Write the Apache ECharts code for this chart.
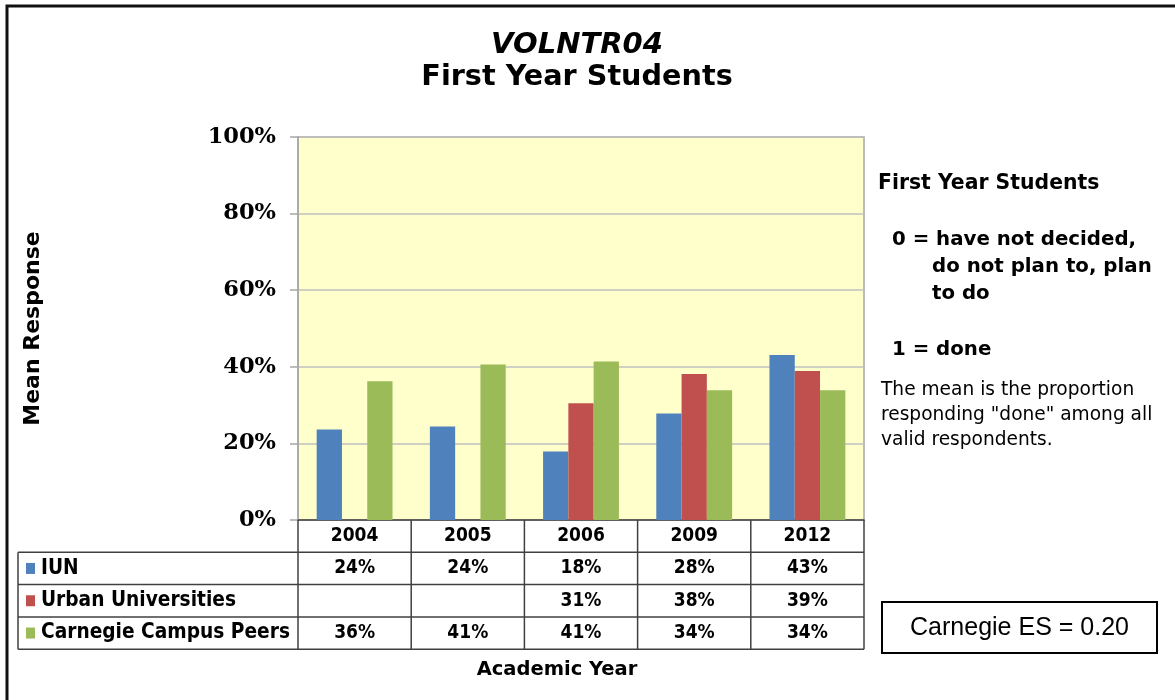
<!DOCTYPE html>
<html><head><meta charset="utf-8">
<script src="https://cdn.jsdelivr.net/npm/echarts@6/dist/echarts.min.js"></script>
<style>html,body{margin:0;padding:0;background:#fff}#c{width:1175px;height:700px}</style>
</head><body><div id="c"></div>
<script>
const years = ['2004', '2005', '2006', '2009', '2012'];
const seriesNames = ['IUN', 'Urban Universities', 'Carnegie Campus Peers'];
const iun = [23.6, 24.4, 17.9, 27.8, 43.1];
const urban = [null, null, 30.5, 38.1, 38.9];
const peers = [36.2, 40.6, 41.4, 33.9, 33.9];
const colors = ['#4F81BD', '#C0504D', '#9BBB59'];
const titleLines = ['VOLNTR04', 'First Year Students'];
const xTitle = 'Academic Year';
const yTitle = 'Mean Response';
const noteHead = 'First Year Students';
const noteZero = ['0 = have not decided,', 'do not plan to, plan', 'to do'];
const noteOne = '1 = done';
const noteBody = ['The mean is the proportion', 'responding "done" among all', 'valid respondents.'];
const esText = 'Carnegie ES = 0.20';

const allSeries = [iun, urban, peers];
const chart = echarts.init(document.getElementById('c'));
const SANS = '"DejaVu Sans"';
const COND = '"DejaVu Sans Condensed", "DejaVu Sans"';

const option = {
  animation: false,
  backgroundColor: '#fff',
  grid: { left: 298, top: 137, width: 566, height: 383, show: true, backgroundColor: '#FFFFCC', borderColor: '#A6A6A6', borderWidth: 1.5 },
  xAxis: {
    type: 'category', data: years,
    axisLabel: { show: false }, axisTick: { show: false },
    axisLine: { lineStyle: { color: '#404040', width: 1.5 } }
  },
  yAxis: {
    type: 'value', min: 0, max: 100, interval: 20,
    axisLabel: { formatter: '{value}%', margin: 22, fontFamily: '"DejaVu Serif"', fontWeight: 'bold', fontSize: 22.5, color: '#000' },
    axisLine: { show: true, lineStyle: { color: '#A6A6A6', width: 1.5 } },
    axisTick: { show: true, length: 8, lineStyle: { color: '#A6A6A6', width: 1.5 } },
    splitLine: { lineStyle: { color: '#BFBFBF', width: 1.5 } },
    name: yTitle, nameLocation: 'middle', nameGap: 254,
    nameTextStyle: { fontFamily: SANS, fontWeight: 'bold', fontSize: 22, color: '#000' }
  },
  series: allSeries.map((d, i) => ({
    type: 'bar', name: seriesNames[i], data: d,
    barGap: '0%', barCategoryGap: '33%',
    itemStyle: { color: colors[i] }
  }))
};
chart.setOption(option);

// Build table and annotations, positioned from the category axis scale
const g = [];
const c0 = chart.convertToPixel({ xAxisIndex: 0 }, 0);
const c1 = chart.convertToPixel({ xAxisIndex: 0 }, 1);
const band = c1 - c0;
const x0 = c0 - band / 2;
const xEnd = x0 + band * years.length;
const yBase = chart.convertToPixel({ yAxisIndex: 0 }, 0);
const rowH = 32.3;
const tableLeft = 18;
const lineCol = '#404040';
function line(x1, y1, x2, y2, w, col) {
  g.push({ type: 'line', shape: { x1, y1, x2, y2 }, style: { stroke: col || lineCol, lineWidth: w || 1.5 }, z: 100 });
}
function text(t, x, y, font, align, fill) {
  g.push({ type: 'text', x, y, z: 101, style: { text: t, font, fill: fill || '#000', textAlign: align || 'left', align: align || 'left', textVerticalAlign: 'middle', verticalAlign: 'middle' } });
}
for (let i = 0; i <= years.length; i++) {
  const x = x0 + band * i;
  line(x, yBase, x, yBase + rowH * 4);
}
line(tableLeft, yBase + rowH, tableLeft, yBase + rowH * 4);
for (let r = 1; r <= 4; r++) line(tableLeft, yBase + rowH * r, xEnd, yBase + rowH * r);
years.forEach((yr, i) => text(yr, chart.convertToPixel({ xAxisIndex: 0 }, i), yBase + rowH / 2, 'bold 19px ' + COND, 'center'));
allSeries.forEach((d, r) => {
  const yc = yBase + rowH * (r + 1.5);
  g.push({ type: 'rect', shape: { x: 26, y: yc - 5.5, width: 9, height: 11 }, style: { fill: colors[r] }, z: 101 });
  text(seriesNames[r], 41, yc, 'bold 20.7px ' + COND, 'left');
  d.forEach((v, i) => {
    if (v != null) text(Math.round(v) + '%', chart.convertToPixel({ xAxisIndex: 0 }, i), yc, 'bold 19px ' + COND, 'center');
  });
});
text(xTitle, 557, 670, 'bold 19.5px ' + SANS, 'center');
text(titleLines[0], 577, 45, 'italic bold 29px ' + SANS, 'center');
text(titleLines[1], 577, 78, 'bold 28.7px ' + SANS, 'center');
text(noteHead, 878, 184, 'bold 20.4px ' + SANS, 'left');
text(noteZero[0], 892, 240, 'bold 19.8px ' + SANS, 'left');
text(noteZero[1], 932, 267, 'bold 19.8px ' + SANS, 'left');
text(noteZero[2], 932, 294, 'bold 19.8px ' + SANS, 'left');
text(noteOne, 892, 350, 'bold 19.8px ' + SANS, 'left');
noteBody.forEach((t, i) => text(t, 881, 390 + i * 25, '18.6px ' + SANS, 'left'));
g.push({ type: 'rect', shape: { x: 882, y: 602, width: 275, height: 51 }, style: { fill: '#fff', stroke: '#000', lineWidth: 2 }, z: 100 });
text(esText, 1019.5, 628, '25px "Liberation Sans"', 'center');
g.push({ type: 'polyline', shape: { points: [[7, 705], [7, 6], [1180, 6]] }, style: { stroke: '#111', lineWidth: 3, fill: null }, z: 100 });

chart.setOption({ graphic: g });
</script>
</body></html>
